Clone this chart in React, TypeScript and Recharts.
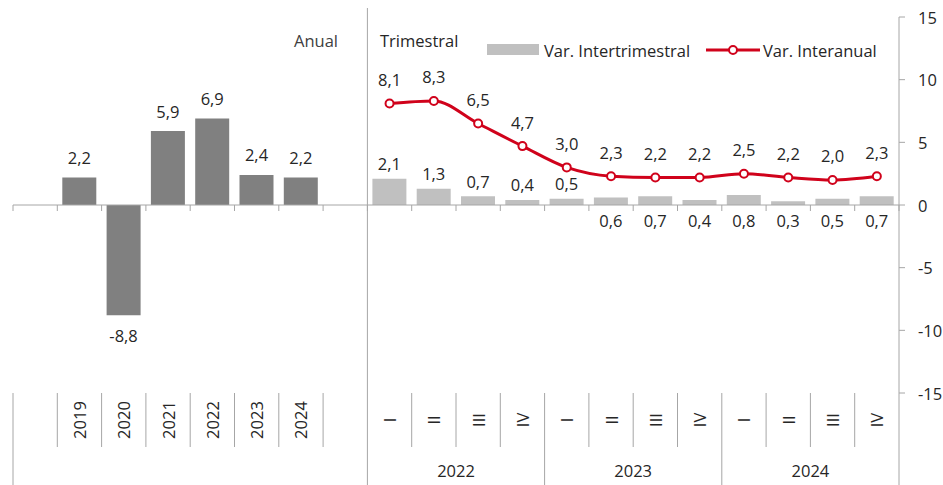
import React from "react";
import {
  ComposedChart,
  Bar,
  Line,
  XAxis,
  YAxis,
  Cell,
  LabelList,
  ReferenceLine,
} from "recharts";

// ---- Data ----
const annualYears = ["2019", "2020", "2021", "2022", "2023", "2024"];
const annualValues = [2.2, -8.8, 5.9, 6.9, 2.4, 2.2];

const quarterYears = ["2022", "2023", "2024"];
const quarterNames = ["I", "II", "III", "IV"];
const qoqValues = [2.1, 1.3, 0.7, 0.4, 0.5, 0.6, 0.7, 0.4, 0.8, 0.3, 0.5, 0.7];
const yoyValues = [8.1, 8.3, 6.5, 4.7, 3.0, 2.3, 2.2, 2.2, 2.5, 2.2, 2.0, 2.3];
// where the quarter-on-quarter label is placed
const qoqLabelSide = ["top", "top", "top", "top", "top", "bottom", "bottom", "bottom", "bottom", "bottom", "bottom", "bottom"];

const yTicks = [-15, -10, -5, 0, 5, 10, 15];

// ---- Styles / layout ----
const FONT = "'Open Sans', sans-serif";
const FS = 16.5;
const TEXT = "#262626";
const AXIS = "#a6a6a6";
const DARK = "#808080";
const LIGHT = "#c0c0c0";
const RED = "#d0021b";

const W = 943;
const H = 485;
const M = { top: 17, right: 4, left: 13, bottom: 0 };
const Y_AXIS_W = 40;
const X_AXIS_H = 92;
const PLOT_LEFT = M.left;
const PLOT_RIGHT = W - M.right - Y_AXIS_W;
const PLOT_TOP = M.top;
const PLOT_BOTTOM = H - M.bottom - X_AXIS_H;
const ZERO_Y = PLOT_TOP + (PLOT_BOTTOM - PLOT_TOP) / 2;

type Row = {
  key: string;
  label: string;
  kind: "blank" | "annual" | "quarter";
  bar: number | null;
  yoy: number | null;
  qIndex: number;
};

const rows: Row[] = [];
rows.push({ key: "a-start", label: "", kind: "blank", bar: null, yoy: null, qIndex: -1 });
annualYears.forEach((y, i) =>
  rows.push({ key: "a-" + y, label: y, kind: "annual", bar: annualValues[i], yoy: null, qIndex: -1 })
);
rows.push({ key: "a-end", label: "", kind: "blank", bar: null, yoy: null, qIndex: -1 });
quarterYears.forEach((y, yi) =>
  quarterNames.forEach((q, qi) => {
    const i = yi * 4 + qi;
    rows.push({ key: y + "-" + q, label: q, kind: "quarter", bar: qoqValues[i], yoy: yoyValues[i], qIndex: i });
  })
);
const barRows = rows.filter((r) => r.bar != null);

const N = rows.length;
const SLOT = (PLOT_RIGHT - PLOT_LEFT) / N;
const FIRST_Q = rows.findIndex((r) => r.kind === "quarter");

const fmt = (v: number) => v.toFixed(1).replace(".", ",");

const isGroupBoundary = (i: number) =>
  i === 0 || i === FIRST_Q || (i > FIRST_Q && (i - FIRST_Q) % 4 === 0);

const XTick = (props: any) => {
  const { x, index } = props;
  const row = rows[index];
  if (!row) return null;
  const left = x - SLOT / 2;
  const right = x + SLOT / 2;
  const els: React.ReactNode[] = [];
  const full = isGroupBoundary(index);
  els.push(
    <line key="d" x1={left} x2={left} y1={PLOT_BOTTOM} y2={full ? H : PLOT_BOTTOM + 54} stroke={AXIS} strokeWidth={1} />
  );
  els.push(<line key="z" x1={left} x2={left} y1={ZERO_Y} y2={ZERO_Y + 6} stroke={AXIS} strokeWidth={1} />);
  if (index === FIRST_Q) {
    els.push(<line key="sep" x1={left} x2={left} y1={8} y2={PLOT_BOTTOM} stroke={AXIS} strokeWidth={1} />);
  }
  if (index === N - 1) {
    els.push(<line key="r" x1={right} x2={right} y1={PLOT_BOTTOM} y2={H} stroke={AXIS} strokeWidth={1} />);
    els.push(<line key="rz" x1={right} x2={right} y1={ZERO_Y} y2={ZERO_Y + 6} stroke={AXIS} strokeWidth={1} />);
  }
  if (row.label) {
    els.push(
      <text
        key="t"
        x={x}
        y={PLOT_BOTTOM + 27}
        transform={`rotate(-90 ${x} ${PLOT_BOTTOM + 27})`}
        textAnchor="middle"
        dominantBaseline="central"
        fontFamily={FONT}
        fontSize={FS}
        fill={TEXT}
      >
        {row.label}
      </text>
    );
  }
  if (row.kind === "quarter" && row.qIndex % 4 === 1) {
    const yi = Math.floor(row.qIndex / 4);
    els.push(
      <text
        key="g"
        x={right}
        y={PLOT_BOTTOM + 77}
        textAnchor="middle"
        dominantBaseline="central"
        fontFamily={FONT}
        fontSize={FS}
        fill={TEXT}
      >
        {quarterYears[yi]}
      </text>
    );
  }
  return <g>{els}</g>;
};

const YTick = (props: any) => {
  const { x, y, payload } = props;
  return (
    <text x={x} y={y} textAnchor="start" dominantBaseline="central" fontFamily={FONT} fontSize={FS} fill={TEXT}>
      {payload.value}
    </text>
  );
};

const BarLabel = (props: any) => {
  const { x, y, width, height, value, index } = props;
  if (value == null) return null;
  const row = barRows[index];
  if (!row) return null;
  const top = Math.min(y, y + height);
  const bottom = Math.max(y, y + height);
  let ty: number;
  if (row.kind === "annual") {
    ty = value >= 0 ? top - 20 : bottom + 20;
  } else {
    ty = qoqLabelSide[row.qIndex] === "top" ? top - 15 : bottom + 15;
  }
  return (
    <text x={x + width / 2} y={ty} textAnchor="middle" dominantBaseline="central" fontFamily={FONT} fontSize={FS} fill={TEXT}>
      {fmt(value)}
    </text>
  );
};

const LineLabel = (props: any) => {
  const { x, y, value } = props;
  if (value == null) return null;
  return (
    <text x={x} y={y - 24} textAnchor="middle" dominantBaseline="central" fontFamily={FONT} fontSize={FS} fill={TEXT}>
      {fmt(value)}
    </text>
  );
};

export default function App() {
  return (
    <div style={{ position: "fixed", left: 0, top: 0, width: W, height: H, background: "#ffffff" }}>
      <ComposedChart width={W} height={H} data={rows} margin={M}>
        <XAxis
          dataKey="key"
          interval={0}
          tickLine={false}
          axisLine={false}
          height={X_AXIS_H}
          tick={<XTick />}
        />
        <YAxis
          orientation="right"
          domain={[-15, 15]}
          ticks={yTicks}
          width={Y_AXIS_W}
          axisLine={{ stroke: AXIS }}
          tickLine={{ stroke: AXIS }}
          tickSize={6}
          tickMargin={13}
          tick={<YTick />}
          interval={0}
        />
        <ReferenceLine y={0} stroke={AXIS} strokeWidth={1} />
        <Bar dataKey="bar" barSize={34} isAnimationActive={false}>
          {rows.map((r) => (
            <Cell key={r.key} fill={r.kind === "annual" ? DARK : LIGHT} />
          ))}
          <LabelList dataKey="bar" content={<BarLabel />} />
        </Bar>
        <Line
          dataKey="yoy"
          type="monotone"
          stroke={RED}
          strokeWidth={3}
          dot={{ r: 4, fill: "#ffffff", stroke: RED, strokeWidth: 2 }}
          isAnimationActive={false}
          connectNulls={false}
        >
          <LabelList dataKey="yoy" content={<LineLabel />} />
        </Line>
      </ComposedChart>
      <svg width={W} height={H} style={{ position: "absolute", left: 0, top: 0, pointerEvents: "none" }}>
        <text x={338} y={40} textAnchor="end" dominantBaseline="central" fontFamily={FONT} fontSize={FS} fill="#404040">
          Anual
        </text>
        <text x={380} y={40} textAnchor="start" dominantBaseline="central" fontFamily={FONT} fontSize={FS} fill={TEXT}>
          Trimestral
        </text>
        <rect x={487} y={44} width={52} height={11} fill={LIGHT} />
        <text x={544} y={50} textAnchor="start" dominantBaseline="central" fontFamily={FONT} fontSize={FS} fill={TEXT}>
          Var. Intertrimestral
        </text>
        <line x1={706} x2={760} y1={50} y2={50} stroke={RED} strokeWidth={3} />
        <circle cx={733} cy={50} r={4} fill="#ffffff" stroke={RED} strokeWidth={2} />
        <text x={763} y={50} textAnchor="start" dominantBaseline="central" fontFamily={FONT} fontSize={FS} fill={TEXT}>
          Var. Interanual
        </text>
      </svg>
    </div>
  );
}
